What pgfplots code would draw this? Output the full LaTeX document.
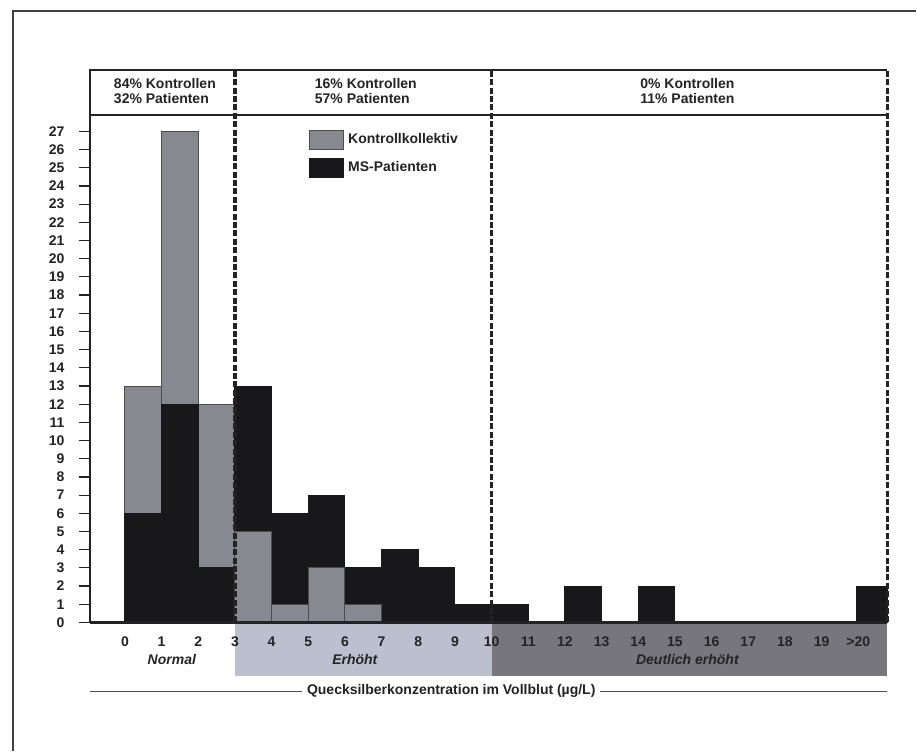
\documentclass[border=0pt]{standalone}
\usepackage{pgfplots}
\pgfplotsset{compat=1.18}
\usepackage{fontspec}
\setmainfont{Liberation Sans}
\definecolor{barGray}{RGB}{134,137,144}
\definecolor{barBlack}{RGB}{24,24,26}
\definecolor{bandLight}{RGB}{188,192,206}
\definecolor{bandDark}{RGB}{118,118,124}
\definecolor{txt}{RGB}{35,35,35}
\pgfplotsset{boxlegend/.style={legend image code/.code={\draw[##1] (0pt,-4.75pt) rectangle (17pt,4.75pt);}}}
\newcommand{\fb}{\bfseries\fontsize{7}{7.5}\selectfont}
\newcommand{\fbi}{\bfseries\itshape\fontsize{7}{7.5}\selectfont}
\begin{document}
\begin{tikzpicture}
\path (0,0) rectangle (458.5pt,376pt);
\draw[line width=0.8pt, black!75] (6.5pt,0) -- (6.5pt,370.5pt) -- (458.5pt,370.5pt);
\begin{axis}[
  at={(45pt,64.5pt)}, anchor=south west,
  scale only axis, width=399pt, height=276.5pt,
  xmin=-0.954, xmax=20.79, ymin=0, ymax=30.38,
  axis line style={draw=none},
  clip=false,
  set layers,
  xtick={0,...,20},
  xticklabels={0,1,2,3,4,5,6,7,8,9,10,11,12,13,14,15,16,17,18,19,{>20}},
  ytick={0,...,27},
  xtick pos=bottom, ytick pos=left,
  x tick style={draw=none},
  y tick style={line width=0.6pt, txt},
  tick align=outside,
  major tick length=5.5pt,
  tick label style={font=\fb, text=txt},
  /pgf/number format/assume math mode=true,
  xticklabel style={yshift=2pt},
  yticklabel style={xshift=-3.7pt},
  legend style={at={(0.2746,0.8930)}, anchor=north west, draw=none, fill=none, inner sep=0pt, row sep=3.5pt, font=\fb, text=txt},
  legend cell align=left,
]
\pgfplotsextra{\begin{pgfonlayer}{axis background}
\fill[bandLight] (axis cs:3,0) rectangle (axis cs:10,-2.97);
\fill[bandDark] (axis cs:10,0) rectangle (axis cs:20.79,-2.97);
\end{pgfonlayer}}

\addplot[ybar, bar width=1, bar shift=0pt, fill=barGray, draw=black!70, line width=0.5pt, boxlegend]
  coordinates {(0.5,13) (1.5,27) (2.5,12)};
\addlegendentry{Kontrollkollektiv}
\addplot[ybar, bar width=1, bar shift=0pt, fill=barBlack, draw=barBlack, line width=0.5pt, boxlegend]
  coordinates {(0.5,6) (1.5,12) (2.5,3) (3.5,13) (4.5,6) (5.5,7) (6.5,3) (7.5,4) (8.5,3) (9.5,1) (10.5,1) (12.5,2) (14.5,2)};
\addlegendentry{MS-Patienten}
\addplot[ybar, bar width=0.84, bar shift=0pt, fill=barBlack, draw=barBlack, line width=0.5pt, forget plot]
  coordinates {(20.37,2)};
\addplot[ybar, bar width=1, bar shift=0pt, fill=barGray, draw=black!70, line width=0.5pt, forget plot]
  coordinates {(3.5,5) (4.5,1) (5.5,3) (6.5,1)};

\draw[line width=1pt, txt] (axis cs:-0.954,0) -- (axis cs:-0.954,30.38) -- (axis cs:20.79,30.38);
\draw[line width=0.7pt, txt] (axis cs:-0.954,27.9) -- (axis cs:20.79,27.9);
\draw[line width=1.3pt, txt] (axis cs:-0.954,0) -- (axis cs:20.79,0);
\draw[line width=1.7pt, txt, dash pattern=on 3pt off 1.2pt] (axis cs:3,0) -- (axis cs:3,30.38);
\draw[line width=1.7pt, txt, dash pattern=on 3pt off 1.2pt] (axis cs:10,0) -- (axis cs:10,30.38);
\draw[line width=1.7pt, txt, dash pattern=on 3pt off 1.2pt] (axis cs:20.79,0) -- (axis cs:20.79,30.38);

\node[font=\fb, align=left, anchor=west, text=txt] at (axis cs:-0.49,29.2) {84\% Kontrollen\\32\% Patienten};
\node[font=\fb, align=left, anchor=west, text=txt] at (axis cs:4.99,29.2) {16\% Kontrollen\\57\% Patienten};
\node[font=\fb, align=center, text=txt] at (axis cs:15.34,29.2) {0\% Kontrollen\\11\% Patienten};

\node[font=\fbi, text=txt] at (axis cs:1.28,-2.03) {Normal};
\node[font=\fbi, text=txt] at (axis cs:6.27,-2.03) {Erhöht};
\node[font=\fbi, text=txt] at (axis cs:15.34,-2.03) {Deutlich erhöht};

\draw[line width=0.6pt, black!70] (axis cs:-0.954,-3.79) -- (axis cs:20.79,-3.79);
\node[fill=white, inner xsep=2.5pt, font=\fb, text=txt] at (axis cs:8.9,-3.79) {Quecksilberkonzentration im Vollblut (µg/L)};
\end{axis}
\end{tikzpicture}
\end{document}
